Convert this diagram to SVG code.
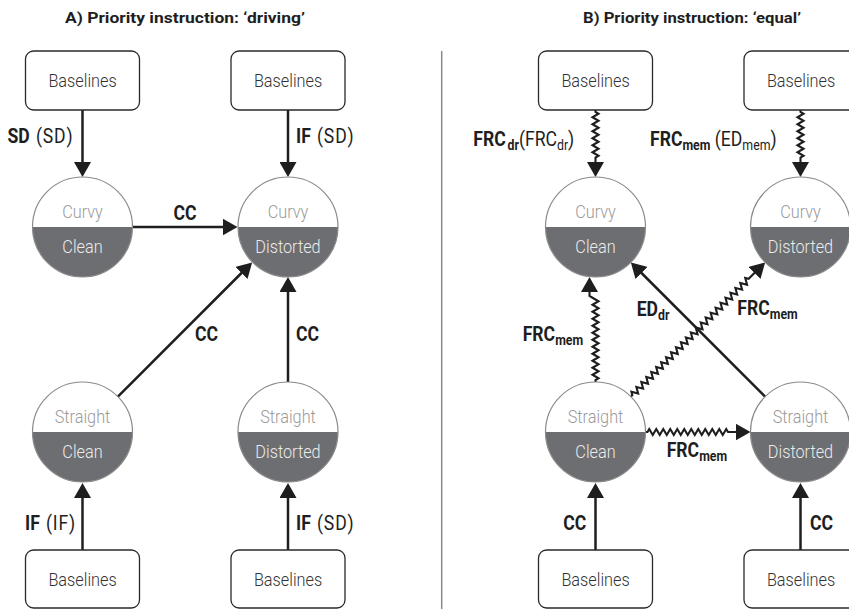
<svg xmlns="http://www.w3.org/2000/svg" width="849" height="609" viewBox="0 0 849 609">
  <style>
    text { font-family: Roboto, "Liberation Sans", sans-serif; }
    .title { font-size: 15px; font-weight: 700; fill: #1e1e1e; text-anchor: middle; }
    .box { fill: #fff; stroke: #2a2a2a; stroke-width: 1.3; }
    .bl { font-size: 18.5px; font-weight: 300; fill: #333; text-anchor: middle; }
    .top { fill: #fff; }
    .bot { fill: #6d6e71; }
    .ring { fill: none; stroke: #8a8a8a; stroke-width: 1.2; }
    .tt { font-size: 18.5px; font-weight: 300; fill: #9a9a9a; text-anchor: middle; }
    .bt { font-size: 18.5px; font-weight: 300; fill: #ececec; text-anchor: middle; }
    .lb { font-size: 20px; font-weight: 400; fill: #1e1e1e; }
    .b { font-weight: 700; }
    .r { letter-spacing: 1px; }
    .sb { font-size: 14px; }
    .edge { fill: none; stroke: #1e1e1e; stroke-width: 2.5; marker-end: url(#head); }
    .wave { fill: none; stroke: #1e1e1e; stroke-width: 2.1; stroke-linejoin: miter; marker-end: url(#head); }
    .sep { stroke: #8a8a8a; stroke-width: 1.5; }
  </style>
  <defs>
    <marker id="head" viewBox="0 0 15 17" refX="12" refY="8.5" markerWidth="15" markerHeight="17" markerUnits="userSpaceOnUse" orient="auto">
      <path d="M0,0 L15,8.5 L0,17 Z" fill="#1e1e1e"/>
    </marker>
  </defs>

  <!-- panel titles -->
  <text class="title" x="185" y="22.5" textLength="240" lengthAdjust="spacingAndGlyphs">A) Priority instruction: ‘driving’</text>
  <text class="title" x="692" y="22.5" textLength="218" lengthAdjust="spacingAndGlyphs">B) Priority instruction: ‘equal’</text>

  <!-- panel divider -->
  <line class="sep" x1="441.7" y1="51" x2="441.7" y2="609"/>

  <!-- connectors -->
  <g id="connectors">
    <!-- panel A -->
    <path class="edge" d="M82.5,110 V174"/>
    <path class="edge" d="M288,110 V174"/>
    <path class="edge" d="M133,227 H234.5"/>
    <path class="edge" d="M117.9,396.6 L250,264.5"/>
    <path class="edge" d="M288,382 V280"/>
    <path class="edge" d="M82.5,550 V486"/>
    <path class="edge" d="M288,550 V486"/>
    <!-- panel B: wavy connectors -->
    <path class="wave" d="M595.5,110 v2 l3,1.75 l-6,3.5 l6,3.5 l-6,3.5 l6,3.5 l-6,3.5 l6,3.5 l-6,3.5 l6,3.5 l-6,3.5 l6,3.5 l-6,3.5 l6,3.5 l-3,1.75 V174"/>
    <path class="wave" d="M800.5,110 v2 l3,1.75 l-6,3.5 l6,3.5 l-6,3.5 l6,3.5 l-6,3.5 l6,3.5 l-6,3.5 l6,3.5 l-6,3.5 l6,3.5 l-6,3.5 l6,3.5 l-3,1.75 V174"/>
    <path class="wave" d="M595.5,382 v-2 l3,-1.75 l-6,-3.5 l6,-3.5 l-6,-3.5 l6,-3.5 l-6,-3.5 l6,-3.5 l-6,-3.5 l6,-3.5 l-6,-3.5 l6,-3.5 l-6,-3.5 l6,-3.5 l-6,-3.5 l6,-3.5 l-6,-3.5 l6,-3.5 l-6,-3.5 l6,-3.5 l-6,-3.5 l6,-3.5 l-6,-3.5 l6,-3.5 l-6,-3.5 l-3,-1.75 V280"/>
    <path class="wave" d="M645.5,432 h2 l1.75,-3 l3.5,6 l3.5,-6 l3.5,6 l3.5,-6 l3.5,6 l3.5,-6 l3.5,6 l3.5,-6 l3.5,6 l3.5,-6 l3.5,6 l3.5,-6 l3.5,6 l3.5,-6 l3.5,6 l3.5,-6 l3.5,6 l3.5,-6 l3.5,6 l3.5,-6 l3.5,6 l3.5,-6 l1.75,3 H747.5"/>
    <path class="wave" transform="translate(630.9 396.6) rotate(-45)" d="M0,0 h2 l1.75,-3 l3.5,6 l3.5,-6 l3.5,6 l3.5,-6 l3.5,6 l3.5,-6 l3.5,6 l3.5,-6 l3.5,6 l3.5,-6 l3.5,6 l3.5,-6 l3.5,6 l3.5,-6 l3.5,6 l3.5,-6 l3.5,6 l3.5,-6 l3.5,6 l3.5,-6 l3.5,6 l3.5,-6 l3.5,6 l3.5,-6 l3.5,6 l3.5,-6 l3.5,6 l3.5,-6 l3.5,6 l3.5,-6 l3.5,6 l3.5,-6 l3.5,6 l3.5,-6 l3.5,6 l3.5,-6 l3.5,6 l3.5,-6 l3.5,6 l3.5,-6 l3.5,6 l3.5,-6 l3.5,6 l3.5,-6 l3.5,6 l3.5,-6 l1.75,3 H186.8"/>
    <!-- panel B: straight connectors -->
    <path class="edge" d="M765.1,396.6 L633,264.5"/>
    <path class="edge" d="M595.5,550 V486"/>
    <path class="edge" d="M800.5,550 V486"/>

    <!-- connector labels -->
    <text class="lb" transform="translate(7.5 142.7) scale(.88 1)"><tspan class="b">SD</tspan> <tspan class="r" dx="2">(SD)</tspan></text>
    <text class="lb" transform="translate(296 143.3) scale(.88 1)"><tspan class="b">IF</tspan> <tspan class="r" dx="2">(SD)</tspan></text>
    <text class="lb b" text-anchor="middle" transform="translate(185 220) scale(.88 1)">CC</text>
    <text class="lb b" transform="translate(195 340.7) scale(.88 1)">CC</text>
    <text class="lb b" transform="translate(296 340.7) scale(.88 1)">CC</text>
    <text class="lb" transform="translate(25 530) scale(.88 1)"><tspan class="b">IF</tspan> <tspan class="r" dx="2">(IF)</tspan></text>
    <text class="lb" transform="translate(296 530) scale(.88 1)"><tspan class="b">IF</tspan> <tspan class="r" dx="2">(SD)</tspan></text>

    <text class="lb" transform="translate(473.3 146) scale(.88 1)"><tspan class="b">FRC</tspan><tspan class="b sb" dx="2" dy="4">dr</tspan><tspan dy="-4">(FRC</tspan><tspan class="sb" dy="4">dr</tspan><tspan dy="-4">)</tspan></text>
    <text class="lb" transform="translate(650 146) scale(.88 1)"><tspan class="b">FRC</tspan><tspan class="b sb" dy="4">mem</tspan><tspan dy="-4"> (ED</tspan><tspan class="sb" dy="4">mem</tspan><tspan dy="-4">)</tspan></text>
    <text class="lb" transform="translate(522.7 340.7) scale(.88 1)"><tspan class="b">FRC</tspan><tspan class="b sb" dy="4">mem</tspan></text>
    <text class="lb" transform="translate(636.7 315.7) scale(.88 1)"><tspan class="b">ED</tspan><tspan class="b sb" dy="4">dr</tspan></text>
    <text class="lb" transform="translate(737.3 315) scale(.88 1)"><tspan class="b">FRC</tspan><tspan class="b sb" dy="4">mem</tspan></text>
    <text class="lb" transform="translate(666.7 456.7) scale(.88 1)"><tspan class="b">FRC</tspan><tspan class="b sb" dy="4">mem</tspan></text>
    <text class="lb b" transform="translate(563.3 530) scale(.88 1)">CC</text>
    <text class="lb b" transform="translate(810 530) scale(.88 1)">CC</text>
  </g>

  <!-- panel A nodes -->
  <g id="a-base-tl"><rect class="box" x="25.5" y="51" width="114" height="59" rx="8"/><text class="bl" transform="translate(82.5 87) scale(.88 1)">Baselines</text></g>
  <g id="a-base-tr"><rect class="box" x="231" y="51" width="114" height="59" rx="8"/><text class="bl" transform="translate(288 87) scale(.88 1)">Baselines</text></g>
  <g id="a-base-bl"><rect class="box" x="25.5" y="550" width="114" height="58" rx="8"/><text class="bl" transform="translate(82.5 586) scale(.88 1)">Baselines</text></g>
  <g id="a-base-br"><rect class="box" x="231" y="550" width="114" height="58" rx="8"/><text class="bl" transform="translate(288 586) scale(.88 1)">Baselines</text></g>

  <g id="a-curvy-clean">
    <path class="top" d="M32.5,227 A50,50 0 0 1 132.5,227 Z"/><path class="bot" d="M32.5,227 A50,50 0 0 0 132.5,227 Z"/><circle class="ring" cx="82.5" cy="227" r="50"/>
    <text class="tt" transform="translate(82.5 218) scale(.88 1)">Curvy</text><text class="bt" transform="translate(82.5 253) scale(.88 1)">Clean</text>
  </g>
  <g id="a-curvy-distorted">
    <path class="top" d="M238,227 A50,50 0 0 1 338,227 Z"/><path class="bot" d="M238,227 A50,50 0 0 0 338,227 Z"/><circle class="ring" cx="288" cy="227" r="50"/>
    <text class="tt" transform="translate(288 218) scale(.88 1)">Curvy</text><text class="bt" transform="translate(288 253) scale(.88 1)">Distorted</text>
  </g>
  <g id="a-straight-clean">
    <path class="top" d="M32.5,432 A50,50 0 0 1 132.5,432 Z"/><path class="bot" d="M32.5,432 A50,50 0 0 0 132.5,432 Z"/><circle class="ring" cx="82.5" cy="432" r="50"/>
    <text class="tt" transform="translate(82.5 423) scale(.88 1)">Straight</text><text class="bt" transform="translate(82.5 458) scale(.88 1)">Clean</text>
  </g>
  <g id="a-straight-distorted">
    <path class="top" d="M238,432 A50,50 0 0 1 338,432 Z"/><path class="bot" d="M238,432 A50,50 0 0 0 338,432 Z"/><circle class="ring" cx="288" cy="432" r="50"/>
    <text class="tt" transform="translate(288 423) scale(.88 1)">Straight</text><text class="bt" transform="translate(288 458) scale(.88 1)">Distorted</text>
  </g>

  <!-- panel B nodes -->
  <g id="b-base-tl"><rect class="box" x="538.5" y="51" width="114" height="59" rx="8"/><text class="bl" transform="translate(595.5 87) scale(.88 1)">Baselines</text></g>
  <g id="b-base-tr"><rect class="box" x="744" y="51" width="114" height="59" rx="8"/><text class="bl" transform="translate(801 87) scale(.88 1)">Baselines</text></g>
  <g id="b-base-bl"><rect class="box" x="538.5" y="550" width="114" height="58" rx="8"/><text class="bl" transform="translate(595.5 586) scale(.88 1)">Baselines</text></g>
  <g id="b-base-br"><rect class="box" x="744" y="550" width="114" height="58" rx="8"/><text class="bl" transform="translate(801 586) scale(.88 1)">Baselines</text></g>

  <g id="b-curvy-clean">
    <path class="top" d="M545.5,227 A50,50 0 0 1 645.5,227 Z"/><path class="bot" d="M545.5,227 A50,50 0 0 0 645.5,227 Z"/><circle class="ring" cx="595.5" cy="227" r="50"/>
    <text class="tt" transform="translate(595.5 218) scale(.88 1)">Curvy</text><text class="bt" transform="translate(595.5 253) scale(.88 1)">Clean</text>
  </g>
  <g id="b-curvy-distorted">
    <path class="top" d="M750.5,227 A50,50 0 0 1 850.5,227 Z"/><path class="bot" d="M750.5,227 A50,50 0 0 0 850.5,227 Z"/><circle class="ring" cx="800.5" cy="227" r="50"/>
    <text class="tt" transform="translate(800.5 218) scale(.88 1)">Curvy</text><text class="bt" transform="translate(800.5 253) scale(.88 1)">Distorted</text>
  </g>
  <g id="b-straight-clean">
    <path class="top" d="M545.5,432 A50,50 0 0 1 645.5,432 Z"/><path class="bot" d="M545.5,432 A50,50 0 0 0 645.5,432 Z"/><circle class="ring" cx="595.5" cy="432" r="50"/>
    <text class="tt" transform="translate(595.5 423) scale(.88 1)">Straight</text><text class="bt" transform="translate(595.5 458) scale(.88 1)">Clean</text>
  </g>
  <g id="b-straight-distorted">
    <path class="top" d="M750.5,432 A50,50 0 0 1 850.5,432 Z"/><path class="bot" d="M750.5,432 A50,50 0 0 0 850.5,432 Z"/><circle class="ring" cx="800.5" cy="432" r="50"/>
    <text class="tt" transform="translate(800.5 423) scale(.88 1)">Straight</text><text class="bt" transform="translate(800.5 458) scale(.88 1)">Distorted</text>
  </g>
</svg>
